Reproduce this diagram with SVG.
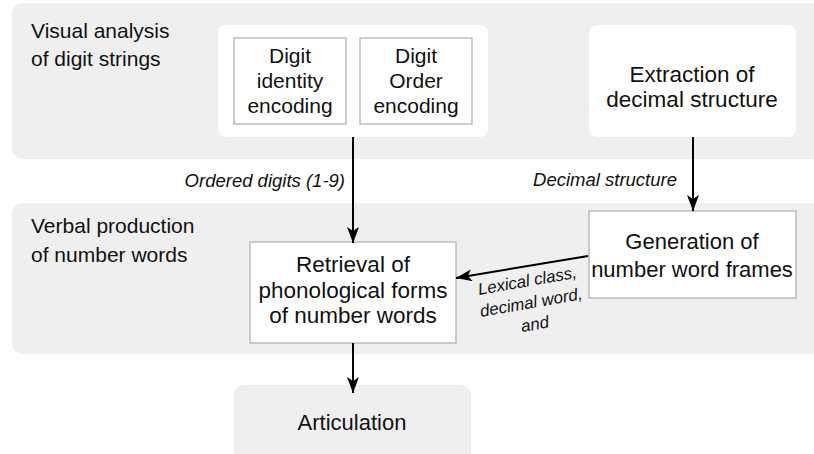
<svg xmlns="http://www.w3.org/2000/svg" width="814" height="454" viewBox="0 0 814 454">
<style>
text{font-family:"Liberation Sans",Arial,sans-serif;fill:#111;}
.band{fill:#efefef;}
.white{fill:#fff;}
.box{fill:#fff;stroke:#b3b3b3;stroke-width:1.3;}
.t{text-anchor:middle;}
.s21{font-size:21px;}
.s22{font-size:22px;}
.s23{font-size:22.5px;}
.lbl{font-size:21px;}
.it{font-size:18.5px;font-style:italic;}
.it2{font-size:16.8px;font-style:italic;text-anchor:middle;}
.conn{stroke:#000;stroke-width:2;fill:none;marker-end:url(#ah);}
</style>
<defs>
<marker id="ah" markerUnits="userSpaceOnUse" viewBox="0 0 16 12" refX="16" refY="6" markerWidth="16" markerHeight="12" orient="auto">
<path d="M0,0 L16,6 L0,12 L4,6 Z" fill="#000"/>
</marker>
</defs>
<g id="band-visual">
<rect class="band" x="12" y="3" width="820" height="156" rx="10"/>
<text class="lbl" x="31" y="38">Visual analysis</text>
<text class="lbl" x="31" y="66">of digit strings</text>
</g>
<g id="band-verbal">
<rect class="band" x="12" y="203" width="820" height="151" rx="10"/>
<text class="lbl" x="31" y="233">Verbal production</text>
<text class="lbl" x="31" y="262">of number words</text>
</g>
<g id="digit-encoding">
<rect class="white" x="218" y="25" width="270" height="112" rx="8"/>
</g>
<g id="digit-identity">
<rect class="box" x="234" y="38" width="112" height="86"/>
<text class="t s21" x="290" y="63">Digit</text>
<text class="t s21" x="290" y="88">identity</text>
<text class="t s21" x="290" y="113">encoding</text>
</g>
<g id="digit-order">
<rect class="box" x="360" y="38" width="112" height="86"/>
<text class="t s21" x="416" y="63">Digit</text>
<text class="t s21" x="416" y="88">Order</text>
<text class="t s21" x="416" y="113">encoding</text>
</g>
<g id="extraction">
<rect class="white" x="589" y="25" width="207" height="112" rx="8"/>
<text class="t s23" x="692" y="82">Extraction of</text>
<text class="t s23" x="692" y="107">decimal structure</text>
</g>
<g id="retrieval">
<rect class="box" x="250" y="242" width="206" height="101"/>
<text class="t s23" x="353" y="272">Retrieval of</text>
<text class="t s23" x="353" y="298">phonological forms</text>
<text class="t s23" x="353" y="323">of number words</text>
</g>
<g id="generation">
<rect class="box" x="589" y="211" width="207" height="87"/>
<text class="t s22" x="692" y="249">Generation of</text>
<text class="t s22" x="692" y="277">number word frames</text>
</g>
<g id="articulation">
<rect class="band" x="234" y="385" width="237" height="80" rx="10"/>
<text class="t s22" x="352" y="430">Articulation</text>
</g>
<g id="connectors">
<line class="conn" x1="353" y1="137" x2="353" y2="243"/>
<line class="conn" x1="693" y1="137" x2="693" y2="211"/>
<line class="conn" x1="588" y1="256" x2="456" y2="278"/>
<line class="conn" x1="353" y1="343" x2="353" y2="393"/>
<text class="it" x="345" y="187" text-anchor="end">Ordered digits (1-9)</text>
<text class="it" x="677" y="186" text-anchor="end">Decimal structure</text>
<g transform="rotate(-10 532 308)">
<text class="it2" x="532" y="286">Lexical class,</text>
<text class="it2" x="532" y="308">decimal word,</text>
<text class="it2" x="532" y="330">and</text>
</g>
</g>
</svg>
